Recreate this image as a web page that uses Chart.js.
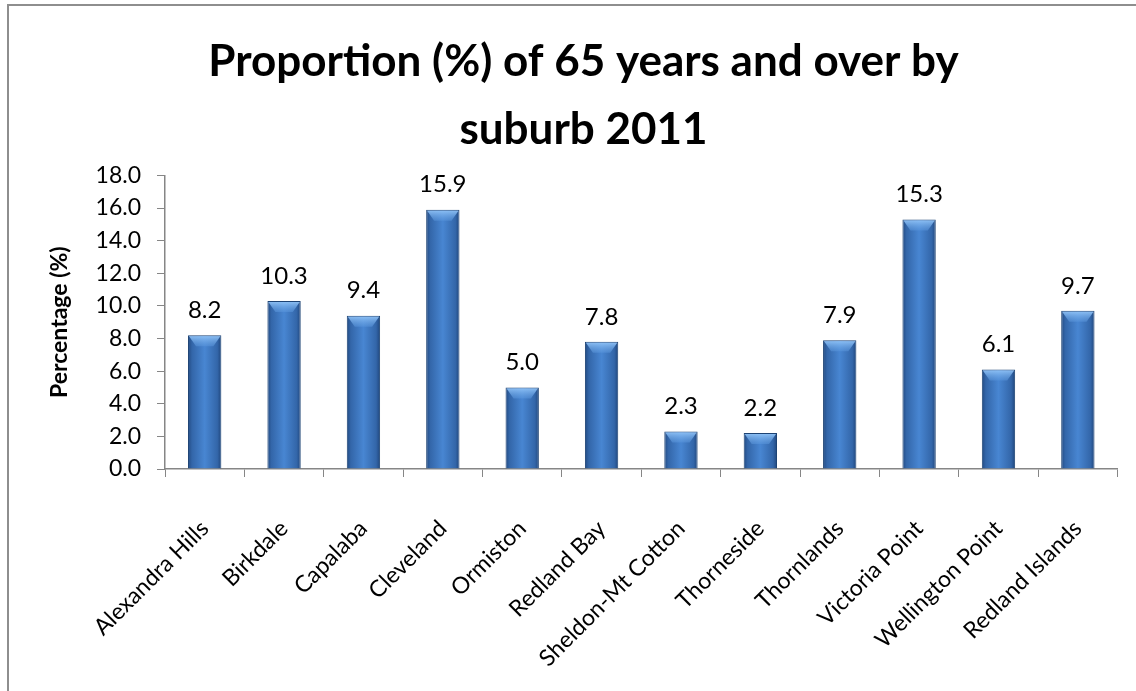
<!DOCTYPE html>
<html>
<head>
<meta charset="utf-8">
<script src="https://cdn.jsdelivr.net/npm/chart.js@4/dist/chart.umd.min.js"></script>
<style>
  html, body { margin: 0; padding: 0; background: #fff; overflow: hidden; }
  #frame { position: absolute; left: 7px; top: 4px; width: 1300px; height: 900px; border: 2px solid #8e8e8e; }
  #wrap { position: absolute; left: 0; top: 0; width: 1136px; height: 691px; }
</style>
</head>
<body>
<div id="frame"></div>
<div id="wrap"><canvas id="suburbChart" width="1136" height="691"></canvas></div>

<script>
// data
const suburbs = ['Alexandra Hills', 'Birkdale', 'Capalaba', 'Cleveland', 'Ormiston', 'Redland Bay',
  'Sheldon-Mt Cotton', 'Thorneside', 'Thornlands', 'Victoria Point', 'Wellington Point', 'Redland Islands'];
const pct65 = [8.2, 10.3, 9.4, 15.9, 5.0, 7.8, 2.3, 2.2, 7.9, 15.3, 6.1, 9.7];
const yTicks = [0, 2, 4, 6, 8, 10, 12, 14, 16, 18];
const titleLines = ['Proportion (%) of 65 years and over by', 'suburb 2011'];

const FONT = 'Lato, "Open Sans", sans-serif';
const BAR_PCT = 0.42;

// horizontal "cylinder" shading for each bar
function barFill(context) {
  const chart = context.chart;
  const xs = chart.scales.x;
  if (!xs || context.dataIndex === undefined || !isFinite(xs.width)) return '#3d77c0';
  const cx = xs.getPixelForValue(context.dataIndex);
  const half = xs.width / suburbs.length * BAR_PCT / 2;
  const g = chart.ctx.createLinearGradient(cx - half, 0, cx + half, 0);
  g.addColorStop(0, '#224a82');
  g.addColorStop(0.12, '#3366a9');
  g.addColorStop(0.5, '#4886d2');
  g.addColorStop(0.88, '#3366a9');
  g.addColorStop(1, '#20467c');
  return g;
}

// value labels + light bevel at the top of each bar
const barExtras = {
  id: 'barExtras',
  afterDatasetsDraw(chart) {
    const ctx = chart.ctx;
    const meta = chart.getDatasetMeta(0);
    ctx.save();
    meta.data.forEach((bar, i) => {
      const half = bar.width / 2;
      const bevel = Math.min(11, (bar.base - bar.y) / 2);
      const g = ctx.createLinearGradient(0, bar.y, 0, bar.y + bevel);
      g.addColorStop(0, 'rgba(150,200,250,0.95)');
      g.addColorStop(1, 'rgba(90,150,220,0.5)');
      ctx.fillStyle = g;
      ctx.beginPath();
      ctx.moveTo(bar.x - half + 1, bar.y + 1);
      ctx.lineTo(bar.x + half - 1, bar.y + 1);
      ctx.lineTo(bar.x + half - 8, bar.y + bevel);
      ctx.lineTo(bar.x - half + 8, bar.y + bevel);
      ctx.closePath();
      ctx.fill();

      ctx.fillStyle = '#000';
      ctx.font = '24px ' + FONT;
      ctx.textAlign = 'center';
      ctx.textBaseline = 'bottom';
      ctx.fillText(pct65[i].toFixed(1), bar.x, bar.y - 13);
    });
    ctx.restore();
  }
};

new Chart(document.getElementById('suburbChart'), {
  type: 'bar',
  data: {
    labels: suburbs,
    datasets: [{
      data: pct65,
      backgroundColor: barFill,
      borderColor: '#1d4374',
      borderWidth: 1,
      barPercentage: BAR_PCT,
      categoryPercentage: 1
    }]
  },
  options: {
    responsive: false,
    animation: false,
    devicePixelRatio: 1,
    layout: { padding: { left: 46, right: 15, top: 28, bottom: 0 } },
    plugins: {
      legend: { display: false },
      tooltip: { enabled: false },
      title: {
        display: true,
        text: titleLines,
        color: '#000',
        font: { family: FONT, size: 44, weight: 'bold', lineHeight: 1.55 },
        padding: { top: 0, bottom: 11 }
      }
    },
    scales: {
      y: {
        min: 0,
        max: 18,
        afterBuildTicks: (scale) => { scale.ticks = yTicks.map(v => ({ value: v })); },
        afterFit: (scale) => { scale.width = 119; },
        border: { color: '#868686', width: 1.5 },
        grid: { drawOnChartArea: false, drawTicks: true, tickLength: 8, color: '#868686' },
        ticks: {
          color: '#000',
          padding: 16,
          font: { family: FONT, size: 23 },
          callback: (v) => Number(v).toFixed(1)
        },
        title: {
          display: true,
          text: 'Percentage (%)',
          color: '#000',
          font: { family: FONT, size: 23, weight: 'bold' },
          padding: { top: 0, bottom: 0 }
        }
      },
      x: {
        afterFit: (scale) => { scale.height = 222; },
        border: { color: '#868686', width: 1.5 },
        grid: { drawOnChartArea: false, drawTicks: true, tickLength: 8, color: '#868686', offset: true },
        ticks: {
          color: '#000',
          padding: 38,
          minRotation: 45,
          maxRotation: 45,
          autoSkip: false,
          font: { family: FONT, size: 23 }
        }
      }
    }
  },
  plugins: [barExtras]
});
</script>
</body>
</html>
